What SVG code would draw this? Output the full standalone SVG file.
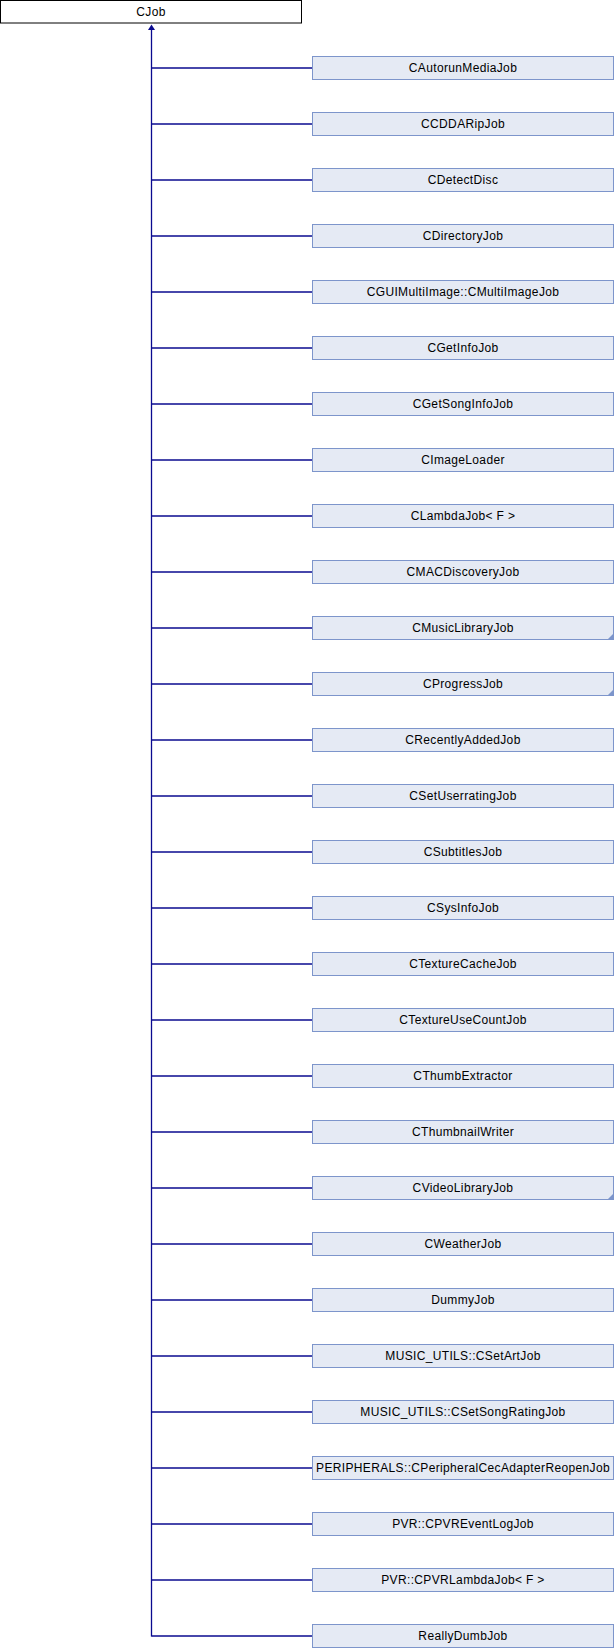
<svg xmlns="http://www.w3.org/2000/svg" xmlns:xlink="http://www.w3.org/1999/xlink" width="614" height="1648" viewBox="0 0 614 1648">
<style>
.base rect{fill:#ffffff;stroke:#000000;stroke-width:1}
.cls rect{fill:#e5eaf4;stroke:#7d95cb;stroke-width:1}
text{font-family:"Liberation Sans",Arial,sans-serif;font-size:12px;letter-spacing:0.35px;fill:#000000;text-anchor:middle}
.edges line{stroke:#0a0a8f;stroke-width:1.3}
.more{fill:#7d95cb}
</style>
<defs>
<polygon id="more" class="more" points="301,17 301,23 295,23"/>
</defs>
<rect width="614" height="1648" fill="#ffffff"/>
<g id="edges" class="edges">
<line x1="151.5" y1="29" x2="151.5" y2="1636.5"/>
<line x1="151.5" y1="68" x2="312.5" y2="68"/>
<line x1="151.5" y1="124" x2="312.5" y2="124"/>
<line x1="151.5" y1="180" x2="312.5" y2="180"/>
<line x1="151.5" y1="236" x2="312.5" y2="236"/>
<line x1="151.5" y1="292" x2="312.5" y2="292"/>
<line x1="151.5" y1="348" x2="312.5" y2="348"/>
<line x1="151.5" y1="404" x2="312.5" y2="404"/>
<line x1="151.5" y1="460" x2="312.5" y2="460"/>
<line x1="151.5" y1="516" x2="312.5" y2="516"/>
<line x1="151.5" y1="572" x2="312.5" y2="572"/>
<line x1="151.5" y1="628" x2="312.5" y2="628"/>
<line x1="151.5" y1="684" x2="312.5" y2="684"/>
<line x1="151.5" y1="740" x2="312.5" y2="740"/>
<line x1="151.5" y1="796" x2="312.5" y2="796"/>
<line x1="151.5" y1="852" x2="312.5" y2="852"/>
<line x1="151.5" y1="908" x2="312.5" y2="908"/>
<line x1="151.5" y1="964" x2="312.5" y2="964"/>
<line x1="151.5" y1="1020" x2="312.5" y2="1020"/>
<line x1="151.5" y1="1076" x2="312.5" y2="1076"/>
<line x1="151.5" y1="1132" x2="312.5" y2="1132"/>
<line x1="151.5" y1="1188" x2="312.5" y2="1188"/>
<line x1="151.5" y1="1244" x2="312.5" y2="1244"/>
<line x1="151.5" y1="1300" x2="312.5" y2="1300"/>
<line x1="151.5" y1="1356" x2="312.5" y2="1356"/>
<line x1="151.5" y1="1412" x2="312.5" y2="1412"/>
<line x1="151.5" y1="1468" x2="312.5" y2="1468"/>
<line x1="151.5" y1="1524" x2="312.5" y2="1524"/>
<line x1="151.5" y1="1580" x2="312.5" y2="1580"/>
<line x1="151.5" y1="1636" x2="312.5" y2="1636"/>
<polygon points="151.5,24.5 148,30 155,30" fill="#0a0a8f"/>
</g>
<g id="CJob" class="base" transform="translate(0.5,0.5)"><rect width="301" height="22.5"/><text x="150.5" y="15.5">CJob</text></g>
<g id="n0" class="cls" transform="translate(312.5,56.5)"><rect width="301" height="23"/><text x="150.5" y="15.5">CAutorunMediaJob</text></g>
<g id="n1" class="cls" transform="translate(312.5,112.5)"><rect width="301" height="23"/><text x="150.5" y="15.5">CCDDARipJob</text></g>
<g id="n2" class="cls" transform="translate(312.5,168.5)"><rect width="301" height="23"/><text x="150.5" y="15.5">CDetectDisc</text></g>
<g id="n3" class="cls" transform="translate(312.5,224.5)"><rect width="301" height="23"/><text x="150.5" y="15.5">CDirectoryJob</text></g>
<g id="n4" class="cls" transform="translate(312.5,280.5)"><rect width="301" height="23"/><text x="150.5" y="15.5">CGUIMultiImage::CMultiImageJob</text></g>
<g id="n5" class="cls" transform="translate(312.5,336.5)"><rect width="301" height="23"/><text x="150.5" y="15.5">CGetInfoJob</text></g>
<g id="n6" class="cls" transform="translate(312.5,392.5)"><rect width="301" height="23"/><text x="150.5" y="15.5">CGetSongInfoJob</text></g>
<g id="n7" class="cls" transform="translate(312.5,448.5)"><rect width="301" height="23"/><text x="150.5" y="15.5">CImageLoader</text></g>
<g id="n8" class="cls" transform="translate(312.5,504.5)"><rect width="301" height="23"/><text x="150.5" y="15.5">CLambdaJob&lt; F &gt;</text></g>
<g id="n9" class="cls" transform="translate(312.5,560.5)"><rect width="301" height="23"/><text x="150.5" y="15.5">CMACDiscoveryJob</text></g>
<g id="n10" class="cls" transform="translate(312.5,616.5)"><rect width="301" height="23"/><text x="150.5" y="15.5">CMusicLibraryJob</text><use xlink:href="#more"/></g>
<g id="n11" class="cls" transform="translate(312.5,672.5)"><rect width="301" height="23"/><text x="150.5" y="15.5">CProgressJob</text><use xlink:href="#more"/></g>
<g id="n12" class="cls" transform="translate(312.5,728.5)"><rect width="301" height="23"/><text x="150.5" y="15.5">CRecentlyAddedJob</text></g>
<g id="n13" class="cls" transform="translate(312.5,784.5)"><rect width="301" height="23"/><text x="150.5" y="15.5">CSetUserratingJob</text></g>
<g id="n14" class="cls" transform="translate(312.5,840.5)"><rect width="301" height="23"/><text x="150.5" y="15.5">CSubtitlesJob</text></g>
<g id="n15" class="cls" transform="translate(312.5,896.5)"><rect width="301" height="23"/><text x="150.5" y="15.5">CSysInfoJob</text></g>
<g id="n16" class="cls" transform="translate(312.5,952.5)"><rect width="301" height="23"/><text x="150.5" y="15.5">CTextureCacheJob</text></g>
<g id="n17" class="cls" transform="translate(312.5,1008.5)"><rect width="301" height="23"/><text x="150.5" y="15.5">CTextureUseCountJob</text></g>
<g id="n18" class="cls" transform="translate(312.5,1064.5)"><rect width="301" height="23"/><text x="150.5" y="15.5">CThumbExtractor</text></g>
<g id="n19" class="cls" transform="translate(312.5,1120.5)"><rect width="301" height="23"/><text x="150.5" y="15.5">CThumbnailWriter</text></g>
<g id="n20" class="cls" transform="translate(312.5,1176.5)"><rect width="301" height="23"/><text x="150.5" y="15.5">CVideoLibraryJob</text><use xlink:href="#more"/></g>
<g id="n21" class="cls" transform="translate(312.5,1232.5)"><rect width="301" height="23"/><text x="150.5" y="15.5">CWeatherJob</text></g>
<g id="n22" class="cls" transform="translate(312.5,1288.5)"><rect width="301" height="23"/><text x="150.5" y="15.5">DummyJob</text></g>
<g id="n23" class="cls" transform="translate(312.5,1344.5)"><rect width="301" height="23"/><text x="150.5" y="15.5">MUSIC_UTILS::CSetArtJob</text></g>
<g id="n24" class="cls" transform="translate(312.5,1400.5)"><rect width="301" height="23"/><text x="150.5" y="15.5">MUSIC_UTILS::CSetSongRatingJob</text></g>
<g id="n25" class="cls" transform="translate(312.5,1456.5)"><rect width="301" height="23"/><text x="150.5" y="15.5">PERIPHERALS::CPeripheralCecAdapterReopenJob</text></g>
<g id="n26" class="cls" transform="translate(312.5,1512.5)"><rect width="301" height="23"/><text x="150.5" y="15.5">PVR::CPVREventLogJob</text></g>
<g id="n27" class="cls" transform="translate(312.5,1568.5)"><rect width="301" height="23"/><text x="150.5" y="15.5">PVR::CPVRLambdaJob&lt; F &gt;</text></g>
<g id="n28" class="cls" transform="translate(312.5,1624.5)"><rect width="301" height="23"/><text x="150.5" y="15.5">ReallyDumbJob</text></g>
</svg>
